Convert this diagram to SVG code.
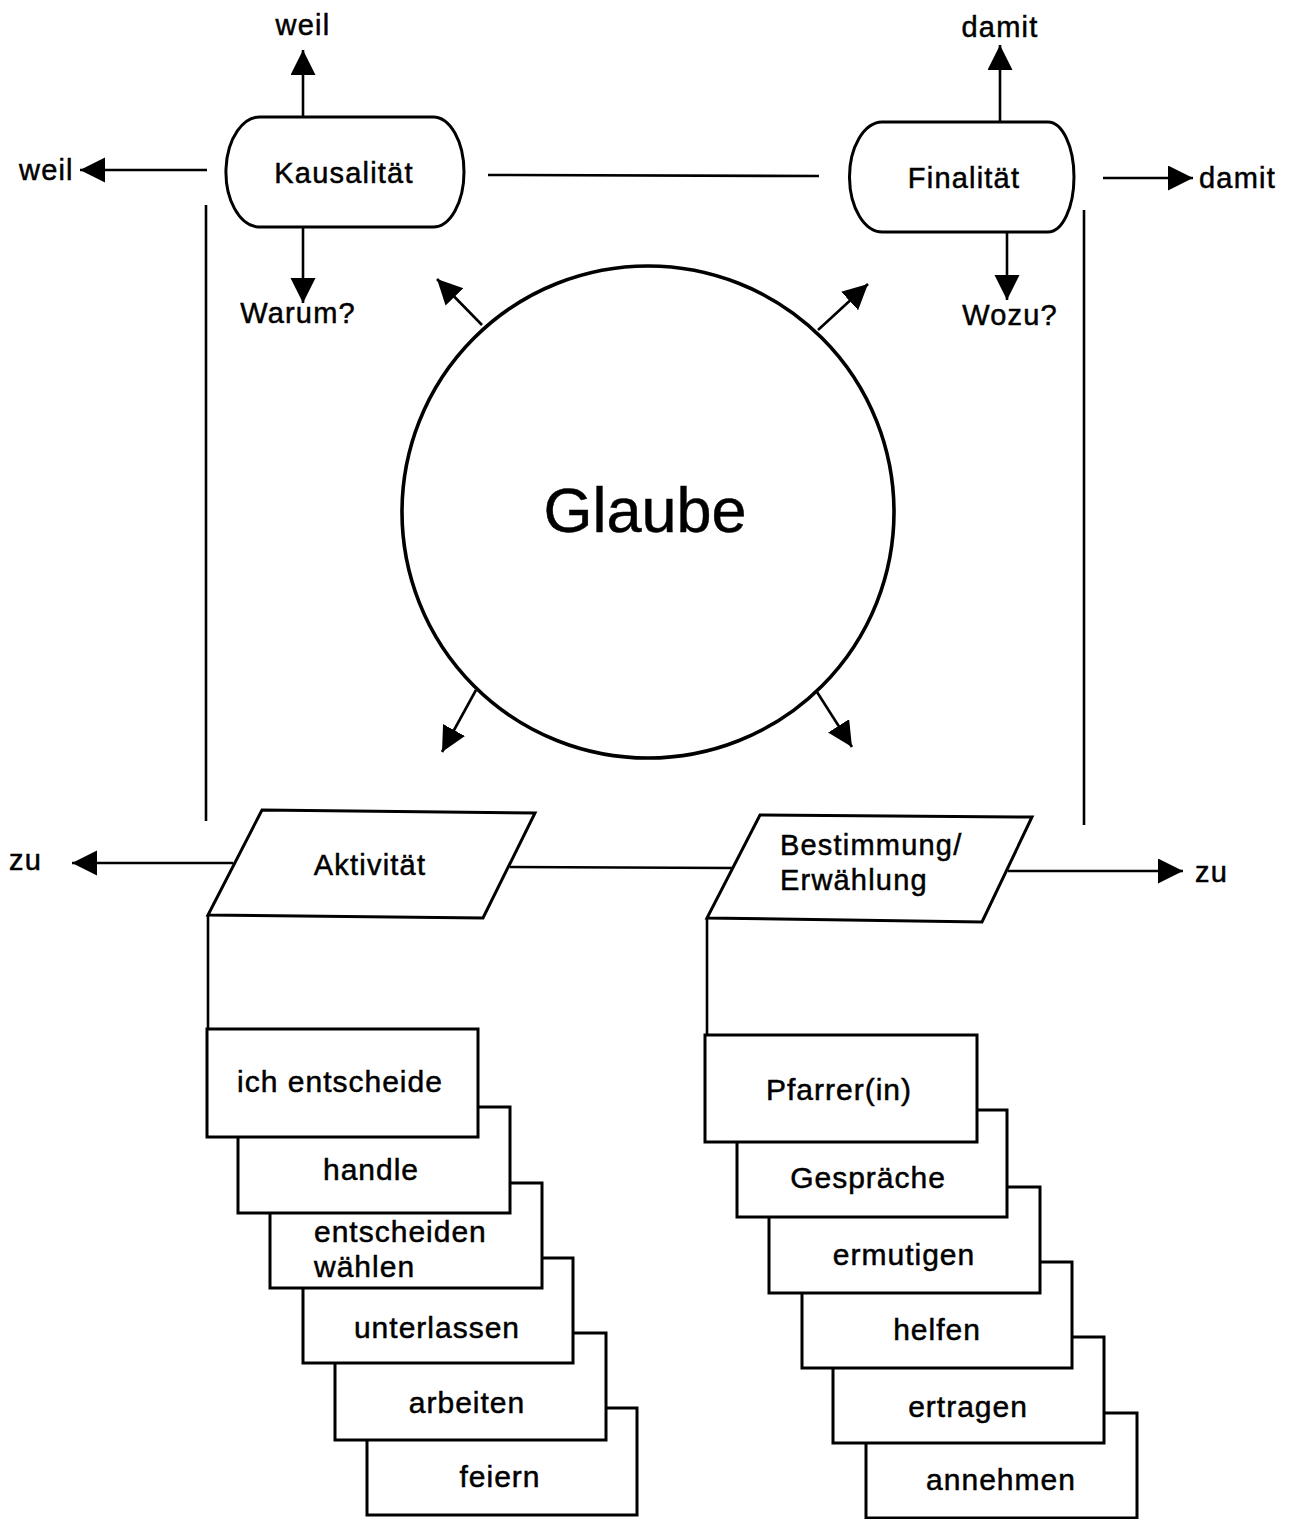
<svg xmlns="http://www.w3.org/2000/svg" width="1300" height="1519" viewBox="0 0 1300 1519">
<style>
text{font-family:"Liberation Sans",Arial,Helvetica,sans-serif;fill:#000;stroke:#000;stroke-width:0.5px;}
.lbl{font-size:29px;letter-spacing:1.2px;}
.card{font-size:30px;letter-spacing:1px;}
.c{text-anchor:middle;}
.shape{fill:#fff;stroke:#000;stroke-width:3;}
.big{fill:#fff;stroke:#000;stroke-width:3.6;}
.ln{fill:none;stroke:#000;stroke-width:2.6;}
.ar{fill:none;stroke:#000;stroke-width:2.6;marker-end:url(#ah);}
</style>
<defs>
<marker id="ah" markerUnits="userSpaceOnUse" markerWidth="26" markerHeight="26" refX="25" refY="12.5" orient="auto" viewBox="0 0 26 26">
<path d="M0,0 L25,12.5 L0,25 Z" fill="#000"/>
</marker>
</defs>
<rect width="1300" height="1519" fill="#fff"/>

<g id="connectors">
<line class="ar" x1="303" y1="117" x2="303" y2="50"/>
<line class="ar" x1="207" y1="170" x2="80" y2="170"/>
<line class="ar" x1="303" y1="227" x2="303" y2="303"/>
<line class="ar" x1="1000" y1="122" x2="1000" y2="45"/>
<line class="ar" x1="1103" y1="178" x2="1193" y2="178"/>
<line class="ar" x1="1007" y1="232" x2="1007" y2="300"/>
<line class="ln" x1="488" y1="175" x2="819" y2="176"/>
<line class="ln" x1="206" y1="205" x2="206" y2="821"/>
<line class="ln" x1="1084" y1="210" x2="1084" y2="825"/>
<line class="ar" x1="482" y1="325" x2="437" y2="279"/>
<line class="ar" x1="818" y1="330" x2="868" y2="284"/>
<line class="ar" x1="476" y1="690" x2="442" y2="752"/>
<line class="ar" x1="817" y1="692" x2="852" y2="747"/>
<line class="ar" x1="233" y1="863" x2="72" y2="863"/>
<line class="ln" x1="510" y1="867" x2="732" y2="868"/>
<line class="ar" x1="1008" y1="871" x2="1183" y2="871"/>
<line class="ln" x1="208" y1="915" x2="208" y2="1029"/>
<line class="ln" x1="707" y1="918" x2="707" y2="1035"/>
</g>

<g id="labels">
<text class="lbl c" x="303" y="35">weil</text>
<text class="lbl" x="19" y="180">weil</text>
<text class="lbl c" x="298" y="323">Warum?</text>
<text class="lbl c" x="1000" y="37">damit</text>
<text class="lbl" x="1199" y="188">damit</text>
<text class="lbl c" x="1010" y="325">Wozu?</text>
<text class="lbl" x="9" y="870">zu</text>
<text class="lbl" x="1195" y="882">zu</text>
</g>

<g id="kausalitaet">
<path class="shape" d="M262,117 H433 A31,55 0 0 1 433,227 H258 A34,55 0 0 1 262,117 Z"/>
<text class="lbl c" x="344" y="183">Kausalität</text>
</g>

<g id="finalitaet">
<path class="shape" d="M882,122 H1048 A26,55 0 0 1 1048,232 H883 A33,55 0 0 1 882,122 Z"/>
<text class="lbl c" x="964" y="188">Finalität</text>
</g>

<g id="glaube">
<circle class="big" cx="648" cy="512" r="246"/>
<text class="c" x="645" y="532" font-size="63">Glaube</text>
</g>

<g id="aktivitaet">
<path class="shape" d="M262,810 L535,813 L483,918 L208,915 Z"/>
<text class="lbl c" x="370" y="875">Aktivität</text>
</g>

<g id="bestimmung">
<path class="shape" d="M760,815 L1032,817 L982,922 L707,918 Z"/>
<text class="lbl" x="780" y="855">Bestimmung/</text>
<text class="lbl" x="780" y="890">Erwählung</text>
</g>

<g id="card-feiern">
<rect class="shape" x="367" y="1408" width="270" height="107"/>
<text class="card c" x="500" y="1487">feiern</text>
</g>
<g id="card-arbeiten">
<rect class="shape" x="335" y="1333" width="271" height="107"/>
<text class="card c" x="467" y="1413">arbeiten</text>
</g>
<g id="card-unterlassen">
<rect class="shape" x="303" y="1258" width="270" height="105"/>
<text class="card c" x="437" y="1338">unterlassen</text>
</g>
<g id="card-entscheiden">
<rect class="shape" x="270" y="1183" width="272" height="105"/>
<text class="card" x="314" y="1242">entscheiden</text>
<text class="card" x="314" y="1277">wählen</text>
</g>
<g id="card-handle">
<rect class="shape" x="238" y="1107" width="272" height="106"/>
<text class="card c" x="371" y="1180">handle</text>
</g>
<g id="card-ich">
<rect class="shape" x="207" y="1029" width="271" height="108"/>
<text class="card c" x="340" y="1092">ich entscheide</text>
</g>

<g id="card-annehmen">
<rect class="shape" x="866" y="1413" width="271" height="105"/>
<text class="card c" x="1001" y="1490">annehmen</text>
</g>
<g id="card-ertragen">
<rect class="shape" x="833" y="1337" width="271" height="106"/>
<text class="card c" x="968" y="1417">ertragen</text>
</g>
<g id="card-helfen">
<rect class="shape" x="802" y="1262" width="270" height="106"/>
<text class="card c" x="937" y="1340">helfen</text>
</g>
<g id="card-ermutigen">
<rect class="shape" x="769" y="1187" width="271" height="106"/>
<text class="card c" x="904" y="1265">ermutigen</text>
</g>
<g id="card-gespraeche">
<rect class="shape" x="737" y="1110" width="270" height="107"/>
<text class="card c" x="868" y="1188">Gespräche</text>
</g>
<g id="card-pfarrer">
<rect class="shape" x="705" y="1035" width="272" height="107"/>
<text class="card c" x="839" y="1100">Pfarrer(in)</text>
</g>
</svg>
